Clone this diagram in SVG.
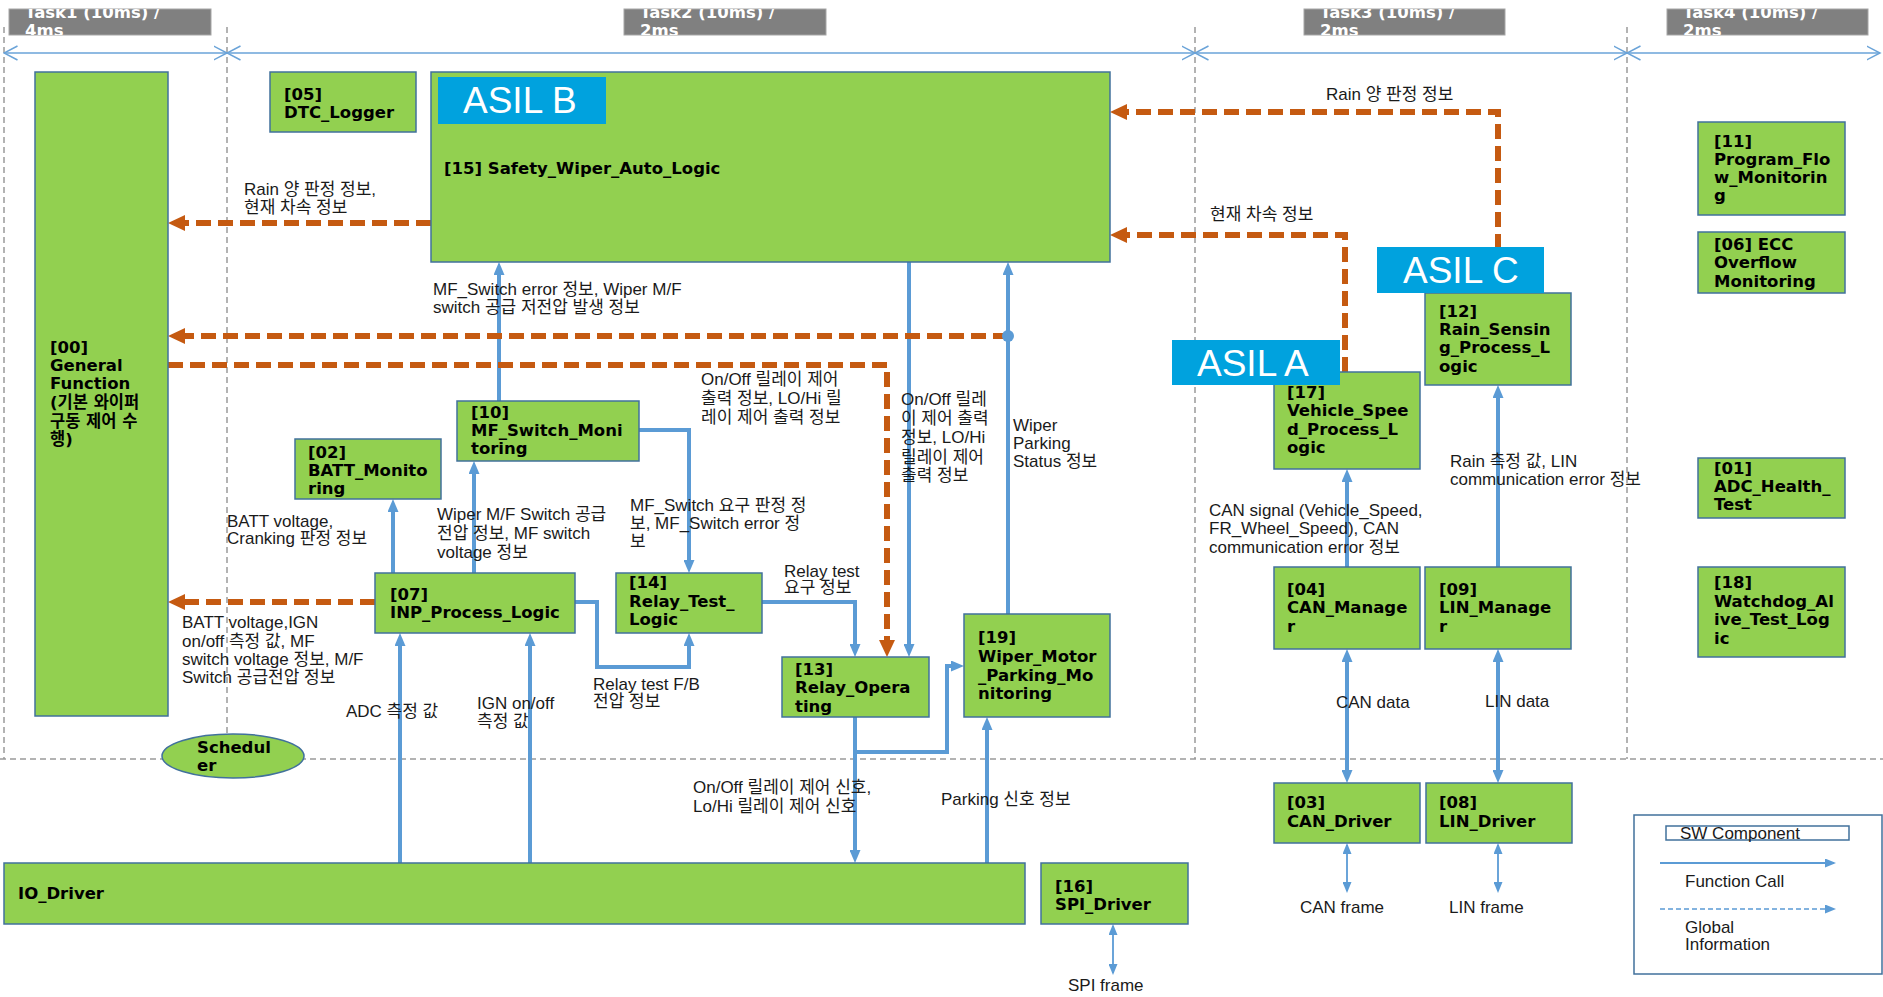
<svg xmlns="http://www.w3.org/2000/svg" width="1883" height="997" viewBox="0 0 1883 997">
<style>
  .bg{fill:#ffffff}
  .grid{fill:none;stroke:#9a9a9a;stroke-width:1.5;stroke-dasharray:6 4}
  .span{fill:none;stroke:#6aa3d8;stroke-width:1.5}
  .hdr rect{fill:#808080;stroke:#a6a6a6;stroke-width:1}
  .hdr text{font-family:"DejaVu Sans","Noto Sans CJK KR",sans-serif;font-weight:bold;font-size:16.5px;fill:#ffffff}
  .node rect{fill:#92d050;stroke:#41719c;stroke-width:1.5}
  .node ellipse{fill:#92d050;stroke:#41719c;stroke-width:1.5}
  .nt{font-family:"DejaVu Sans","Noto Sans CJK KR",sans-serif;font-weight:bold;font-size:16.5px;fill:#000000}
  .asil rect{fill:#00a2de;stroke:none}
  .asil text{font-family:"Liberation Sans","Noto Sans CJK KR",sans-serif;font-size:37px;fill:#ffffff}
  .call{fill:none;stroke:#5b9bd5;stroke-width:4}
  .thin{fill:none;stroke:#5b9bd5;stroke-width:1.8}
  .glob{fill:none;stroke:#c55a11;stroke-width:6;stroke-dasharray:15 7}
  .lbl{font-family:"Liberation Sans","Noto Sans CJK KR",sans-serif;font-size:17px;fill:#1a1a1a}
  .legend rect{fill:#ffffff;stroke:#41719c;stroke-width:1.5}
</style>
<defs>
  <marker id="ah" viewBox="0 0 13 11" refX="5" refY="5.5" markerWidth="13" markerHeight="11" markerUnits="userSpaceOnUse" orient="auto-start-reverse">
    <path d="M0,0L13,5.5L0,11z" fill="#5b9bd5"/>
  </marker>
  <marker id="ahs" viewBox="0 0 11 9" refX="9" refY="4.5" markerWidth="11" markerHeight="9" markerUnits="userSpaceOnUse" orient="auto-start-reverse">
    <path d="M0,0L11,4.5L0,9z" fill="#5b9bd5"/>
  </marker>
  <marker id="aho" viewBox="0 0 17 16" refX="7" refY="8" markerWidth="17" markerHeight="16" markerUnits="userSpaceOnUse" orient="auto-start-reverse">
    <path d="M0,0L17,8L0,16z" fill="#c55a11"/>
  </marker>
  <marker id="chev" viewBox="0 0 15 16" refX="13.5" refY="8" markerWidth="15" markerHeight="16" markerUnits="userSpaceOnUse" orient="auto-start-reverse">
    <path d="M0,1L13.5,8L0,15" fill="none" stroke="#6aa3d8" stroke-width="1.5"/>
  </marker>
  <clipPath id="c1"><rect x="9" y="9" width="202" height="26"/></clipPath>
  <clipPath id="c2"><rect x="624" y="9" width="202" height="26"/></clipPath>
  <clipPath id="c3"><rect x="1304" y="9" width="201" height="26"/></clipPath>
  <clipPath id="c4"><rect x="1667" y="9" width="201" height="26"/></clipPath>
</defs>

<rect class="bg" x="0" y="0" width="1883" height="997"/>

<!-- task partitions -->
<g id="partitions">
  <path class="grid" d="M4,27V759M227,27V759M1195,27V759M1627,27V759M0,759H1883"/>
  <path class="span" d="M4,53H227" marker-start="url(#chev)" marker-end="url(#chev)"/>
  <path class="span" d="M227,53H1195" marker-start="url(#chev)" marker-end="url(#chev)"/>
  <path class="span" d="M1195,53H1627" marker-start="url(#chev)" marker-end="url(#chev)"/>
  <path class="span" d="M1627,53H1880" marker-start="url(#chev)" marker-end="url(#chev)"/>
  <g class="hdr" id="task1"><rect x="9" y="9" width="202" height="26"/><text clip-path="url(#c1)" x="25" y="18">Task1 (10ms) /<tspan x="25" y="36">4ms</tspan></text></g>
  <g class="hdr" id="task2"><rect x="624" y="9" width="202" height="26"/><text clip-path="url(#c2)" x="640" y="18">Task2 (10ms) /<tspan x="640" y="36">2ms</tspan></text></g>
  <g class="hdr" id="task3"><rect x="1304" y="9" width="201" height="26"/><text clip-path="url(#c3)" x="1320" y="18">Task3 (10ms) /<tspan x="1320" y="36">2ms</tspan></text></g>
  <g class="hdr" id="task4"><rect x="1667" y="9" width="201" height="26"/><text clip-path="url(#c4)" x="1683" y="18">Task4 (10ms) /<tspan x="1683" y="36">2ms</tspan></text></g>
</g>

<!-- connectors -->
<g id="connectors">
  <!-- function calls -->
  <path class="call" d="M499,401V270" marker-end="url(#ah)"/>
  <path class="call" d="M393,573V507" marker-end="url(#ah)"/>
  <path class="call" d="M474,573V469" marker-end="url(#ah)"/>
  <path class="call" d="M639,430H689V565" marker-end="url(#ah)"/>
  <path class="call" d="M575,602H597V667H689V641" marker-end="url(#ah)"/>
  <path class="call" d="M762,602H855V649" marker-end="url(#ah)"/>
  <path class="call" d="M909,262V649" marker-end="url(#ah)"/>
  <path class="call" d="M1008,614V270" marker-end="url(#ah)"/>
  <path class="call" d="M855,717V855" marker-end="url(#ah)"/>
  <path class="call" d="M855,752H947V666H956" marker-end="url(#ah)"/>
  <path class="call" d="M987,863V725" marker-end="url(#ah)"/>
  <path class="call" d="M400,863V641" marker-end="url(#ah)"/>
  <path class="call" d="M530,863V641" marker-end="url(#ah)"/>
  <path class="call" d="M1347,567V477" marker-end="url(#ah)"/>
  <path class="call" d="M1498,567V393" marker-end="url(#ah)"/>
  <path class="call" d="M1347,657V775" marker-start="url(#ah)" marker-end="url(#ah)"/>
  <path class="call" d="M1498,657V775" marker-start="url(#ah)" marker-end="url(#ah)"/>
  <path class="thin" d="M1347,845V891" marker-start="url(#ahs)" marker-end="url(#ahs)"/>
  <path class="thin" d="M1498,845V891" marker-start="url(#ahs)" marker-end="url(#ahs)"/>
  <path class="thin" d="M1113,926V973" marker-start="url(#ahs)" marker-end="url(#ahs)"/>

  <!-- global information -->
  <path class="glob" d="M431,223H178" marker-end="url(#aho)"/>
  <path class="glob" d="M1008,336H178" marker-end="url(#aho)"/>
  <path class="glob" d="M168,365H887V647" marker-end="url(#aho)"/>
  <path class="glob" d="M375,602H178" marker-end="url(#aho)"/>
  <path class="glob" d="M1498,293V112H1120" marker-end="url(#aho)"/>
  <path class="glob" d="M1345,372V235H1120" marker-end="url(#aho)"/>
  <circle cx="1008" cy="336" r="6" fill="#5b9bd5"/>

  <!-- connector labels -->
  <text class="lbl" x="244" y="195">Rain 양 판정 정보,<tspan x="244" y="213">현재 차속 정보</tspan></text>
  <text class="lbl" x="433" y="295">MF_Switch error 정보, Wiper M/F<tspan x="433" y="313">switch 공급 저전압 발생 정보</tspan></text>
  <text class="lbl" x="227" y="527">BATT voltage,<tspan x="227" y="544">Cranking 판정 정보</tspan></text>
  <text class="lbl" x="437" y="520">Wiper M/F Switch 공급<tspan x="437" y="539">전압 정보, MF switch</tspan><tspan x="437" y="558">voltage 정보</tspan></text>
  <text class="lbl" x="630" y="511">MF_Switch 요구 판정 정<tspan x="630" y="529">보, MF_Switch error 정</tspan><tspan x="630" y="547">보</tspan></text>
  <text class="lbl" x="593" y="690">Relay test F/B<tspan x="593" y="707">전압 정보</tspan></text>
  <text class="lbl" x="784" y="577">Relay test<tspan x="784" y="593">요구 정보</tspan></text>
  <text class="lbl" x="1013" y="431">Wiper<tspan x="1013" y="449">Parking</tspan><tspan x="1013" y="467">Status 정보</tspan></text>
  <text class="lbl" x="901" y="405">On/Off 릴레<tspan x="901" y="424">이 제어 출력</tspan><tspan x="901" y="443">정보, LO/Hi</tspan><tspan x="901" y="463">릴레이 제어</tspan><tspan x="901" y="481">출력 정보</tspan></text>
  <text class="lbl" x="701" y="385">On/Off 릴레이 제어<tspan x="701" y="404">출력 정보, LO/Hi 릴</tspan><tspan x="701" y="423">레이 제어 출력 정보</tspan></text>
  <text class="lbl" x="693" y="793">On/Off 릴레이 제어 신호,<tspan x="693" y="812">Lo/Hi 릴레이 제어 신호</tspan></text>
  <text class="lbl" x="941" y="805">Parking 신호 정보</text>
  <text class="lbl" x="346" y="717">ADC 측정 값</text>
  <text class="lbl" x="477" y="709">IGN on/off<tspan x="477" y="727">측정 값</tspan></text>
  <text class="lbl" x="182" y="628">BATT voltage,IGN<tspan x="182" y="647">on/off 측정 값, MF</tspan><tspan x="182" y="665">switch voltage 정보, M/F</tspan><tspan x="182" y="683">Switch 공급전압 정보</tspan></text>
  <text class="lbl" x="1209" y="516">CAN signal (Vehicle_Speed,<tspan x="1209" y="534">FR_Wheel_Speed), CAN</tspan><tspan x="1209" y="553">communication error 정보</tspan></text>
  <text class="lbl" x="1450" y="467">Rain 측정 값, LIN<tspan x="1450" y="485">communication error 정보</tspan></text>
  <text class="lbl" x="1336" y="708">CAN data</text>
  <text class="lbl" x="1485" y="707">LIN data</text>
  <text class="lbl" x="1300" y="913">CAN frame</text>
  <text class="lbl" x="1449" y="913">LIN frame</text>
  <text class="lbl" x="1068" y="991">SPI frame</text>
  <text class="lbl" x="1326" y="100">Rain 양 판정 정보</text>
  <text class="lbl" x="1210" y="220">현재 차속 정보</text>
</g>

<!-- software components -->
<g id="n00" class="node"><rect x="35" y="72" width="133" height="644"/><text class="nt" x="50" y="353">[00]<tspan x="50" y="371">General</tspan><tspan x="50" y="389">Function</tspan><tspan x="50" y="408">(기본 와이퍼</tspan><tspan x="50" y="427">구동 제어 수</tspan><tspan x="50" y="445">행)</tspan></text></g>
<g id="n05" class="node"><rect x="270" y="72" width="146" height="60"/><text class="nt" x="284" y="100">[05]<tspan x="284" y="118">DTC_Logger</tspan></text></g>
<g id="n15" class="node"><rect x="431" y="72" width="679" height="190"/><text class="nt" x="444" y="174">[15] Safety_Wiper_Auto_Logic</text></g>
<g id="n11" class="node"><rect x="1698" y="122" width="147" height="93"/><text class="nt" x="1714" y="147">[11]<tspan x="1714" y="165">Program_Flo</tspan><tspan x="1714" y="183">w_Monitorin</tspan><tspan x="1714" y="201">g</tspan></text></g>
<g id="n06" class="node"><rect x="1698" y="232" width="147" height="61"/><text class="nt" x="1714" y="250">[06] ECC<tspan x="1714" y="268">Overflow</tspan><tspan x="1714" y="287">Monitoring</tspan></text></g>
<g id="n01" class="node"><rect x="1698" y="458" width="147" height="60"/><text class="nt" x="1714" y="474">[01]<tspan x="1714" y="492">ADC_Health_</tspan><tspan x="1714" y="510">Test</tspan></text></g>
<g id="n18" class="node"><rect x="1698" y="567" width="147" height="90"/><text class="nt" x="1714" y="588">[18]<tspan x="1714" y="607">Watchdog_Al</tspan><tspan x="1714" y="625">ive_Test_Log</tspan><tspan x="1714" y="644">ic</tspan></text></g>
<g id="n12" class="node"><rect x="1425" y="293" width="146" height="92"/><text class="nt" x="1439" y="317">[12]<tspan x="1439" y="335">Rain_Sensin</tspan><tspan x="1439" y="353">g_Process_L</tspan><tspan x="1439" y="372">ogic</tspan></text></g>
<g id="n17" class="node"><rect x="1274" y="372" width="146" height="97"/><text class="nt" x="1287" y="398">[17]<tspan x="1287" y="416">Vehicle_Spee</tspan><tspan x="1287" y="435">d_Process_L</tspan><tspan x="1287" y="453">ogic</tspan></text></g>
<g id="n04" class="node"><rect x="1274" y="567" width="146" height="82"/><text class="nt" x="1287" y="595">[04]<tspan x="1287" y="613">CAN_Manage</tspan><tspan x="1287" y="632">r</tspan></text></g>
<g id="n09" class="node"><rect x="1425" y="567" width="146" height="82"/><text class="nt" x="1439" y="595">[09]<tspan x="1439" y="613">LIN_Manage</tspan><tspan x="1439" y="632">r</tspan></text></g>
<g id="n03" class="node"><rect x="1274" y="783" width="146" height="60"/><text class="nt" x="1287" y="808">[03]<tspan x="1287" y="827">CAN_Driver</tspan></text></g>
<g id="n08" class="node"><rect x="1426" y="783" width="146" height="60"/><text class="nt" x="1439" y="808">[08]<tspan x="1439" y="827">LIN_Driver</tspan></text></g>
<g id="n16" class="node"><rect x="1041" y="863" width="147" height="61"/><text class="nt" x="1055" y="892">[16]<tspan x="1055" y="910">SPI_Driver</tspan></text></g>
<g id="io" class="node"><rect x="4" y="863" width="1021" height="61"/><text class="nt" x="18" y="899">IO_Driver</text></g>
<g id="n02" class="node"><rect x="295" y="439" width="146" height="60"/><text class="nt" x="308" y="458">[02]<tspan x="308" y="476">BATT_Monito</tspan><tspan x="308" y="494">ring</tspan></text></g>
<g id="n10" class="node"><rect x="457" y="401" width="182" height="60"/><text class="nt" x="471" y="418">[10]<tspan x="471" y="436">MF_Switch_Moni</tspan><tspan x="471" y="454">toring</tspan></text></g>
<g id="n07" class="node"><rect x="375" y="573" width="200" height="60"/><text class="nt" x="390" y="600">[07]<tspan x="390" y="618">INP_Process_Logic</tspan></text></g>
<g id="n14" class="node"><rect x="616" y="573" width="146" height="60"/><text class="nt" x="629" y="588">[14]<tspan x="629" y="607">Relay_Test_</tspan><tspan x="629" y="625">Logic</tspan></text></g>
<g id="n13" class="node"><rect x="782" y="657" width="147" height="60"/><text class="nt" x="795" y="675">[13]<tspan x="795" y="693">Relay_Opera</tspan><tspan x="795" y="712">ting</tspan></text></g>
<g id="n19" class="node"><rect x="964" y="614" width="146" height="103"/><text class="nt" x="978" y="643">[19]<tspan x="978" y="662">Wiper_Motor</tspan><tspan x="978" y="681">_Parking_Mo</tspan><tspan x="978" y="699">nitoring</tspan></text></g>
<g id="scheduler" class="node"><ellipse cx="233" cy="756" rx="71" ry="22"/><text class="nt" x="197" y="753">Schedul<tspan x="197" y="771">er</tspan></text></g>

<!-- safety level tags -->
<g id="asilB" class="asil"><rect x="438" y="77" width="168" height="47"/><text x="463" y="113">ASIL B</text></g>
<g id="asilC" class="asil"><rect x="1377" y="247" width="167" height="46"/><text x="1403" y="283">ASIL C</text></g>
<g id="asilA" class="asil"><rect x="1172" y="340" width="168" height="45"/><text x="1197" y="376">ASIL A</text></g>

<!-- legend -->
<g id="legend" class="legend">
  <rect x="1634" y="815" width="248" height="159"/>
  <rect x="1666" y="826" width="183" height="14"/>
  <text class="lbl" x="1680" y="839">SW Component</text>
  <path d="M1660,863H1834" fill="none" stroke="#5b9bd5" stroke-width="2" marker-end="url(#ahs)"/>
  <text class="lbl" x="1685" y="887">Function Call</text>
  <path d="M1660,909H1834" fill="none" stroke="#5b9bd5" stroke-width="1.5" stroke-dasharray="5 3" marker-end="url(#ahs)"/>
  <text class="lbl" x="1685" y="933">Global<tspan x="1685" y="950">Information</tspan></text>
</g>
</svg>
